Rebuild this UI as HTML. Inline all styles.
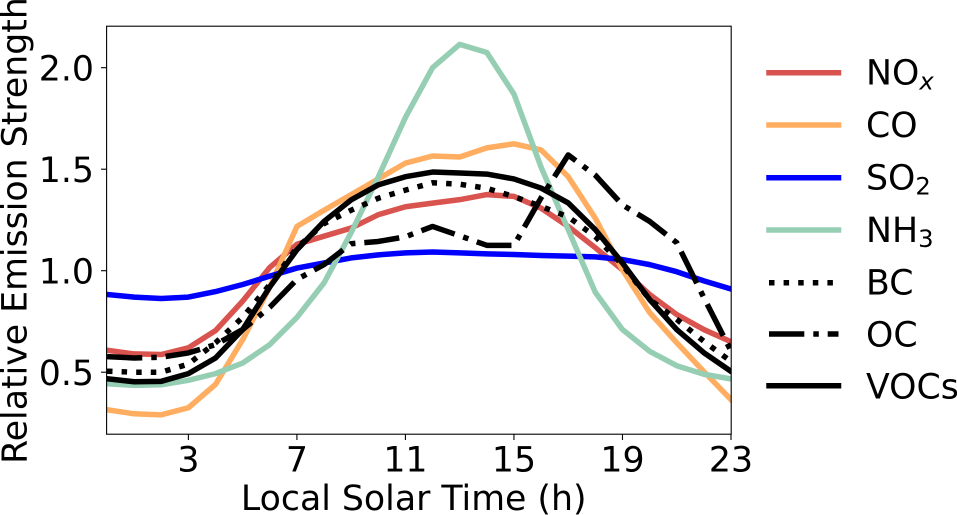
<!DOCTYPE html>
<html>
<head>
<meta charset="utf-8">
<style>
html,body{margin:0;padding:0;background:#fff;width:957px;height:515px;overflow:hidden}
svg{display:block}
text{font-family:"DejaVu Sans",sans-serif;fill:#000}
</style>
</head>
<body>
<svg id="chart" width="957" height="515" viewBox="0 0 957 515" xmlns="http://www.w3.org/2000/svg">
<defs><clipPath id="plot-clip"><rect x="107" y="26.5" width="624" height="407.5"/></clipPath></defs>
<g id="series" clip-path="url(#plot-clip)"></g>
<g id="axes"></g>
<text x="413.7" y="510" text-anchor="middle" font-size="34.72">Local Solar Time (h)</text>
<text transform="translate(26.7,230.5) rotate(-90)" text-anchor="middle" font-size="34.72">Relative Emission Strength</text>
<g id="legend" font-size="34.72">
<text x="866" y="84.7">NO<tspan font-size="24.3" font-style="italic" dy="5">x</tspan></text>
<text x="866" y="137.1">CO</text>
<text x="866" y="189.5">SO<tspan font-size="24.3" dy="5">2</tspan></text>
<text x="866" y="241.9">NH<tspan font-size="24.3" dy="5">3</tspan></text>
<text x="866" y="294.3">BC</text>
<text x="866" y="346.7">OC</text>
<text x="866" y="398.6">VOCs</text>
</g>
</svg>
<script>
const hours = [0,1,2,3,4,5,6,7,8,9,10,11,12,13,14,15,16,17,18,19,20,21,22,23];
const xTickLabels = [3,7,11,15,19,23];
const yTickLabels = [0.5,1.0,1.5,2.0];
const noxValues = [0.608,0.59,0.587,0.62,0.705,0.85,1.016,1.13,1.17,1.21,1.276,1.315,1.333,1.35,1.375,1.366,1.308,1.218,1.113,1.004,0.883,0.784,0.71,0.65];
const coValues = [0.315,0.295,0.29,0.325,0.44,0.66,0.92,1.218,1.298,1.375,1.452,1.53,1.565,1.56,1.605,1.625,1.595,1.463,1.258,1.004,0.794,0.645,0.503,0.365];
const so2Values = [0.883,0.87,0.863,0.87,0.897,0.932,0.973,1.013,1.038,1.063,1.078,1.088,1.092,1.088,1.083,1.08,1.075,1.072,1.068,1.055,1.03,0.995,0.95,0.91];
const nh3Values = [0.443,0.435,0.438,0.46,0.493,0.545,0.636,0.77,0.94,1.188,1.462,1.755,2.0,2.115,2.075,1.87,1.51,1.202,0.893,0.71,0.603,0.532,0.49,0.467];
const bcValues = [0.505,0.50,0.50,0.54,0.645,0.77,0.932,1.113,1.232,1.298,1.357,1.397,1.433,1.426,1.406,1.365,1.317,1.265,1.168,1.028,0.858,0.76,0.652,0.553];
const ocValues = [0.577,0.57,0.574,0.595,0.636,0.71,0.82,0.957,1.03,1.133,1.144,1.167,1.218,1.172,1.125,1.125,1.359,1.57,1.47,1.324,1.243,1.138,0.867,0.605];
const vocValues = [0.468,0.453,0.455,0.493,0.57,0.71,0.92,1.103,1.243,1.349,1.423,1.463,1.486,1.481,1.476,1.452,1.407,1.334,1.202,1.038,0.858,0.71,0.596,0.504];

const NS = 'http://www.w3.org/2000/svg';
const xScale = h => 107 + (h - 0) * (731 - 107) / 23;
const yScale = v => 270.7 - (v - 1) * 203;
const LW = 5.5;
const dottedDash = '5.5 9.1';
const dashDotDash = '35.3 9 5.5 8.9';

function styleLine(el, color, dash) {
  el.setAttribute('fill', 'none');
  el.setAttribute('stroke', color);
  el.setAttribute('stroke-width', LW);
  el.setAttribute('stroke-linejoin', 'round');
  if (dash) { el.setAttribute('stroke-dasharray', dash); el.setAttribute('stroke-linecap', 'butt'); }
  else { el.setAttribute('stroke-linecap', 'square'); }
}

const seriesG = document.getElementById('series');
const legendG = document.getElementById('legend');

function addSeries(name, values, color, dash, legendY) {
  const p = document.createElementNS(NS, 'polyline');
  p.setAttribute('points', values.map((v, i) => xScale(hours[i]).toFixed(2) + ',' + yScale(v).toFixed(2)).join(' '));
  styleLine(p, color, dash);
  
  
  seriesG.appendChild(p);
  const l = document.createElementNS(NS, 'line');
  l.setAttribute('x1', 769);
  l.setAttribute('x2', 838.5);
  l.setAttribute('y1', legendY);
  l.setAttribute('y2', legendY);
  styleLine(l, color, dash);
  
  
  legendG.appendChild(l);
}
addSeries('nox', noxValues, '#d9534f', null, 72.7);
addSeries('co', coValues, '#ffad60', null, 125);
addSeries('so2', so2Values, '#0000ff', null, 177.7);
addSeries('nh3', nh3Values, '#96ceb4', null, 230);
addSeries('bc', bcValues, '#000000', dottedDash, 282.7);
addSeries('oc', ocValues, '#000000', dashDotDash, 334);
addSeries('vocs', vocValues, '#000000', null, 385.7);

const axes = document.getElementById('axes');
const frame = document.createElementNS(NS, 'rect');
frame.setAttribute('x', 106.6);
frame.setAttribute('y', 26.2);
frame.setAttribute('width', 624.6);
frame.setAttribute('height', 408);
frame.setAttribute('fill', 'none');
frame.setAttribute('stroke', '#000');
frame.setAttribute('stroke-width', 1.1);


axes.appendChild(frame);

xTickLabels.forEach(t => {
  const x = xScale(t);
  const m = document.createElementNS(NS, 'line');
  m.setAttribute('x1', x); m.setAttribute('x2', x);
  m.setAttribute('y1', 434.2); m.setAttribute('y2', 440);
  m.setAttribute('stroke', '#000'); m.setAttribute('stroke-width', 1.1);
  
  
  axes.appendChild(m);
  const s = document.createElementNS(NS, 'text');
  s.setAttribute('x', x); s.setAttribute('y', 471.3);
  s.setAttribute('text-anchor', 'middle'); s.setAttribute('font-size', '34.72');
  
  
  s.textContent = t;
  axes.appendChild(s);
});
yTickLabels.forEach(t => {
  const y = yScale(t);
  const m = document.createElementNS(NS, 'line');
  m.setAttribute('x1', 101); m.setAttribute('x2', 106.6);
  m.setAttribute('y1', y); m.setAttribute('y2', y);
  m.setAttribute('stroke', '#000'); m.setAttribute('stroke-width', 1.1);
  
  
  axes.appendChild(m);
  const s = document.createElementNS(NS, 'text');
  s.setAttribute('x', 94); s.setAttribute('y', y + 13);
  s.setAttribute('text-anchor', 'end'); s.setAttribute('font-size', '34.72');
  
  
  s.textContent = t.toFixed(1);
  axes.appendChild(s);
});
</script>
</body>
</html>
